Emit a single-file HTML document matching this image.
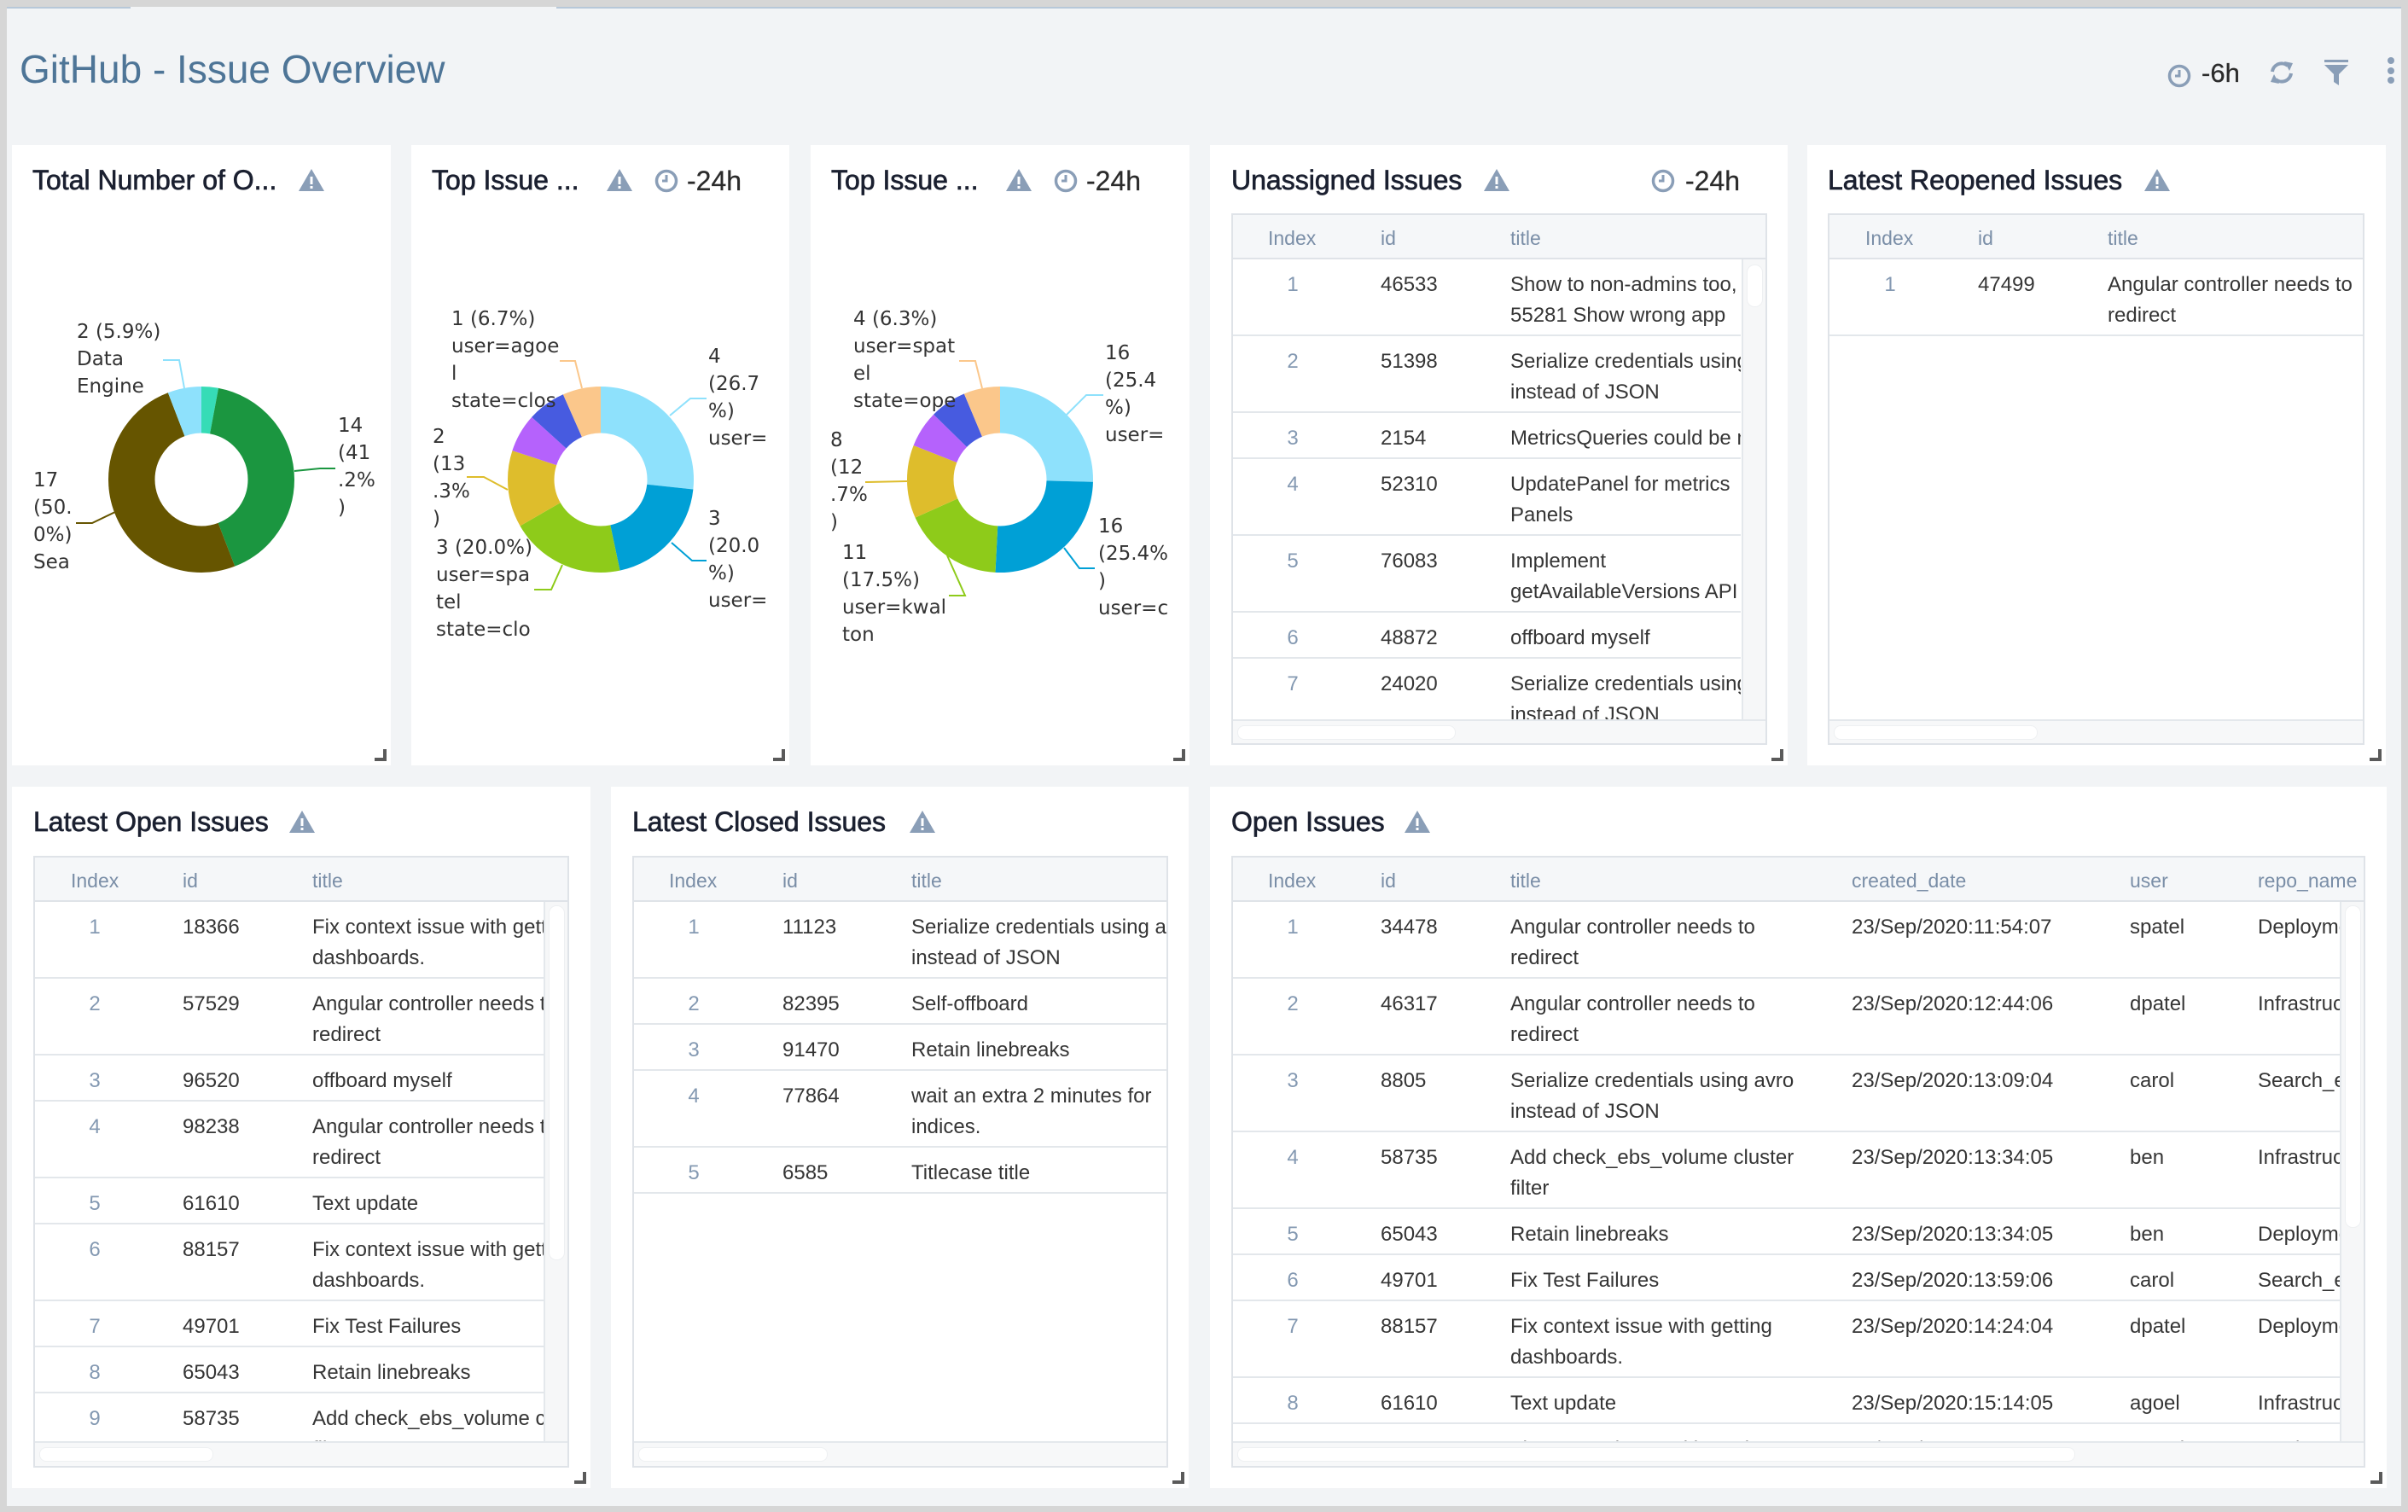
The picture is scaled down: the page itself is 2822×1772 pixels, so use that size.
<!DOCTYPE html>
<html><head><meta charset="utf-8">
<style>
*{margin:0;padding:0}
html,body{width:2822px;height:1772px;overflow:hidden;background:#f2f4f6;font-family:"Liberation Sans",Arial,sans-serif;position:relative}
.a{position:absolute}
.panel{position:absolute;background:#fff}
.pt{position:absolute;font-size:32px;line-height:36px;color:#1b2030;white-space:nowrap;-webkit-text-stroke:0.7px #1b2030}
.tm{position:absolute;font-size:32px;line-height:36px;color:#2b2b2b;white-space:nowrap;-webkit-text-stroke:0.3px #2b2b2b}
.tbl{position:absolute;border:2px solid #dfe3e8;box-sizing:border-box;background:#fff;overflow:hidden}
.hdr{position:absolute;left:0;top:0;right:0;height:52px;background:#f5f7f9;border-bottom:2px solid #dfe3e8;box-sizing:border-box}
.h{position:absolute;top:9px;font-size:23px;line-height:36px;color:#7a8ea7;white-space:nowrap}
.vp{position:absolute;left:0;top:52px;overflow:hidden;background:#fff}
.vs{position:absolute;right:0;top:52px;width:28px;background:#f6f7f8;border-left:2px solid #e4e8ec;box-sizing:border-box}
.vt{position:absolute;left:4px;width:17px;background:#fff;border-radius:9px;border:1px solid #eef0f2}
.hs{position:absolute;left:0;right:0;bottom:0;background:#f7f8f9;border-top:2px solid #e4e8ec;box-sizing:border-box}
.ht{position:absolute;left:5px;top:5px;height:15px;background:#fff;border-radius:8px;border:1px solid #eef0f2}
.r{position:absolute;left:0;right:0;border-bottom:2px solid #e3e7eb;box-sizing:border-box}
.c{position:absolute;top:12px;font-size:24px;line-height:36px;color:#353535;white-space:nowrap}
.i{left:40px;width:60px;text-align:center;color:#8499b2}
.c2{left:173px}.c3{left:325px}.c4{left:725px}.c5{left:1051px}.c6{left:1201px}
</style></head><body>

<!-- frame -->
<div class="a" style="left:0;top:0;width:2822px;height:8px;background:#d6d6d6"></div>
<div class="a" style="left:0;top:8px;width:153px;height:2px;background:#b7c8d9"></div>
<div class="a" style="left:652px;top:8px;width:2162px;height:2px;background:#b7c8d9"></div>
<div class="a" style="left:0;top:0;width:8px;height:1772px;background:#d6d6d6"></div>
<div class="a" style="left:2814px;top:0;width:8px;height:1772px;background:#d6d6d6"></div>
<div class="a" style="left:0;top:1765px;width:2822px;height:7px;background:#d6d6d6"></div>

<!-- header -->
<div class="a" style="left:23px;top:53px;font-size:46px;line-height:56px;color:#4e7597;white-space:nowrap">GitHub - Issue Overview</div>
<svg class="a" style="left:2540px;top:75px" width="28" height="28"><circle cx="14" cy="14" r="11.5" fill="none" stroke="#8a9eb7" stroke-width="3.5"/><path d="M14 7V14H9" fill="none" stroke="#8a9eb7" stroke-width="3"/></svg>
<div class="a" style="left:2580px;top:68px;font-size:31px;line-height:36px;color:#2b2b2b;-webkit-text-stroke:0.3px #2b2b2b">-6h</div>
<svg class="a" style="left:2658px;top:70px" width="32" height="30"><path d="M5 14A11 11 0 0 1 23 7" fill="none" stroke="#8a9eb7" stroke-width="4"/><polygon points="19,2 29,4 25,13" fill="#8a9eb7"/><path d="M27 16A11 11 0 0 1 9 23" fill="none" stroke="#8a9eb7" stroke-width="4"/><polygon points="13,28 3,26 7,17" fill="#8a9eb7"/></svg>
<svg class="a" style="left:2724px;top:70px" width="28" height="30"><rect x="0" y="0" width="28" height="3" fill="#8a9eb7"/><polygon points="0,6 28,6 17,17 17,30 11,26 11,17" fill="#8a9eb7"/></svg>
<svg class="a" style="left:2796px;top:66px" width="12" height="34"><circle cx="6" cy="5" r="4" fill="#8a9eb7"/><circle cx="6" cy="17" r="4" fill="#8a9eb7"/><circle cx="6" cy="28" r="4" fill="#8a9eb7"/></svg>

<!-- panels row 1 -->
<div class="panel" style="left:14px;top:170px;width:444px;height:727px"></div>
<div class="panel" style="left:482px;top:170px;width:443px;height:727px"></div>
<div class="panel" style="left:950px;top:170px;width:444px;height:727px"></div>
<div class="panel" style="left:1418px;top:170px;width:677px;height:727px"></div>
<div class="panel" style="left:2118px;top:170px;width:678px;height:727px"></div>
<!-- panels row 2 -->
<div class="panel" style="left:14px;top:922px;width:678px;height:822px"></div>
<div class="panel" style="left:716px;top:922px;width:677px;height:822px"></div>
<div class="panel" style="left:1418px;top:922px;width:1379px;height:822px"></div>

<!-- titles -->
<div class="pt" style="left:38px;top:193px">Total Number of O...</div>
<div class="pt" style="left:506px;top:193px">Top Issue ...</div>
<div class="pt" style="left:974px;top:193px">Top Issue ...</div>
<div class="pt" style="left:1443px;top:193px">Unassigned Issues</div>
<div class="pt" style="left:2142px;top:193px">Latest Reopened Issues</div>
<div class="pt" style="left:39px;top:945px">Latest Open Issues</div>
<div class="pt" style="left:741px;top:945px">Latest Closed Issues</div>
<div class="pt" style="left:1443px;top:945px">Open Issues</div>

<div class="tm" style="left:805px;top:194px">-24h</div>
<div class="tm" style="left:1273px;top:194px">-24h</div>
<div class="tm" style="left:1975px;top:194px">-24h</div>

<!-- warning icons -->
<svg class="a" style="left:349px;top:197px" width="32" height="28"><polygon points="16,1 31,27 1,27" fill="#8a9eb7"/><rect x="14.5" y="10" width="3" height="9" fill="#fff"/><rect x="14.5" y="21" width="3" height="3" fill="#fff"/></svg>
<svg class="a" style="left:710px;top:197px" width="32" height="28"><polygon points="16,1 31,27 1,27" fill="#8a9eb7"/><rect x="14.5" y="10" width="3" height="9" fill="#fff"/><rect x="14.5" y="21" width="3" height="3" fill="#fff"/></svg>
<svg class="a" style="left:1178px;top:197px" width="32" height="28"><polygon points="16,1 31,27 1,27" fill="#8a9eb7"/><rect x="14.5" y="10" width="3" height="9" fill="#fff"/><rect x="14.5" y="21" width="3" height="3" fill="#fff"/></svg>
<svg class="a" style="left:1738px;top:197px" width="32" height="28"><polygon points="16,1 31,27 1,27" fill="#8a9eb7"/><rect x="14.5" y="10" width="3" height="9" fill="#fff"/><rect x="14.5" y="21" width="3" height="3" fill="#fff"/></svg>
<svg class="a" style="left:2512px;top:197px" width="32" height="28"><polygon points="16,1 31,27 1,27" fill="#8a9eb7"/><rect x="14.5" y="10" width="3" height="9" fill="#fff"/><rect x="14.5" y="21" width="3" height="3" fill="#fff"/></svg>
<svg class="a" style="left:338px;top:949px" width="32" height="28"><polygon points="16,1 31,27 1,27" fill="#8a9eb7"/><rect x="14.5" y="10" width="3" height="9" fill="#fff"/><rect x="14.5" y="21" width="3" height="3" fill="#fff"/></svg>
<svg class="a" style="left:1065px;top:949px" width="32" height="28"><polygon points="16,1 31,27 1,27" fill="#8a9eb7"/><rect x="14.5" y="10" width="3" height="9" fill="#fff"/><rect x="14.5" y="21" width="3" height="3" fill="#fff"/></svg>
<svg class="a" style="left:1645px;top:949px" width="32" height="28"><polygon points="16,1 31,27 1,27" fill="#8a9eb7"/><rect x="14.5" y="10" width="3" height="9" fill="#fff"/><rect x="14.5" y="21" width="3" height="3" fill="#fff"/></svg>

<!-- clock icons -->
<svg class="a" style="left:767px;top:198px" width="28" height="28"><circle cx="14" cy="14" r="11.5" fill="none" stroke="#8a9eb7" stroke-width="3.5"/><path d="M14 7V14H9" fill="none" stroke="#8a9eb7" stroke-width="3"/></svg>
<svg class="a" style="left:1235px;top:198px" width="28" height="28"><circle cx="14" cy="14" r="11.5" fill="none" stroke="#8a9eb7" stroke-width="3.5"/><path d="M14 7V14H9" fill="none" stroke="#8a9eb7" stroke-width="3"/></svg>
<svg class="a" style="left:1935px;top:198px" width="28" height="28"><circle cx="14" cy="14" r="11.5" fill="none" stroke="#8a9eb7" stroke-width="3.5"/><path d="M14 7V14H9" fill="none" stroke="#8a9eb7" stroke-width="3"/></svg>

<!-- resize corners -->
<svg class="a" style="left:439px;top:878px" width="14" height="14"><path d="M10 0h4v14h-14v-4h10z" fill="#5a5a5a"/></svg>
<svg class="a" style="left:906px;top:878px" width="14" height="14"><path d="M10 0h4v14h-14v-4h10z" fill="#5a5a5a"/></svg>
<svg class="a" style="left:1375px;top:878px" width="14" height="14"><path d="M10 0h4v14h-14v-4h10z" fill="#5a5a5a"/></svg>
<svg class="a" style="left:2076px;top:878px" width="14" height="14"><path d="M10 0h4v14h-14v-4h10z" fill="#5a5a5a"/></svg>
<svg class="a" style="left:2777px;top:878px" width="14" height="14"><path d="M10 0h4v14h-14v-4h10z" fill="#5a5a5a"/></svg>
<svg class="a" style="left:673px;top:1725px" width="14" height="14"><path d="M10 0h4v14h-14v-4h10z" fill="#5a5a5a"/></svg>
<svg class="a" style="left:1374px;top:1725px" width="14" height="14"><path d="M10 0h4v14h-14v-4h10z" fill="#5a5a5a"/></svg>
<svg class="a" style="left:2778px;top:1725px" width="14" height="14"><path d="M10 0h4v14h-14v-4h10z" fill="#5a5a5a"/></svg>

<!-- P4 Unassigned Issues table -->
<div class="tbl" style="left:1443px;top:250px;width:628px;height:623px">
  <div class="hdr"><div class="h" style="left:41px">Index</div><div class="h" style="left:173px">id</div><div class="h" style="left:325px">title</div></div>
  <div class="vp" style="width:595px;height:539px">
    <div class="r" style="top:0;height:90px"><div class="c i">1</div><div class="c c2">46533</div><div class="c c3">Show to non-admins too,<br>55281 Show wrong app</div></div>
    <div class="r" style="top:90px;height:90px"><div class="c i">2</div><div class="c c2">51398</div><div class="c c3">Serialize credentials using avro<br>instead of JSON</div></div>
    <div class="r" style="top:180px;height:54px"><div class="c i">3</div><div class="c c2">2154</div><div class="c c3">MetricsQueries could be made</div></div>
    <div class="r" style="top:234px;height:90px"><div class="c i">4</div><div class="c c2">52310</div><div class="c c3">UpdatePanel for metrics<br>Panels</div></div>
    <div class="r" style="top:324px;height:90px"><div class="c i">5</div><div class="c c2">76083</div><div class="c c3">Implement<br>getAvailableVersions API</div></div>
    <div class="r" style="top:414px;height:54px"><div class="c i">6</div><div class="c c2">48872</div><div class="c c3">offboard myself</div></div>
    <div class="r" style="top:468px;height:90px"><div class="c i">7</div><div class="c c2">24020</div><div class="c c3">Serialize credentials using avro<br>instead of JSON</div></div>
  </div>
  <div class="vs" style="height:539px"><div class="vt" style="top:6px;height:48px"></div></div>
  <div class="hs" style="height:28px"><div class="ht" style="width:254px"></div></div>
</div>

<!-- P5 Latest Reopened Issues table -->
<div class="tbl" style="left:2142px;top:250px;width:629px;height:623px">
  <div class="hdr"><div class="h" style="left:42px">Index</div><div class="h" style="left:174px">id</div><div class="h" style="left:326px">title</div></div>
  <div class="vp" style="width:625px;height:539px">
    <div class="r" style="top:0;height:90px"><div class="c i" style="left:41px">1</div><div class="c" style="left:174px">47499</div><div class="c" style="left:326px">Angular controller needs to<br>redirect</div></div>
  </div>
  <div class="hs" style="height:28px"><div class="ht" style="width:237px"></div></div>
</div>

<!-- P6 Latest Open Issues table -->
<div class="tbl" style="left:39px;top:1003px;width:628px;height:717px">
  <div class="hdr"><div class="h" style="left:42px">Index</div><div class="h" style="left:173px">id</div><div class="h" style="left:325px">title</div></div>
  <div class="vp" style="width:596px;height:632px">
    <div class="r" style="top:0;height:90px"><div class="c i">1</div><div class="c c2">18366</div><div class="c c3">Fix context issue with getting<br>dashboards.</div></div>
    <div class="r" style="top:90px;height:90px"><div class="c i">2</div><div class="c c2">57529</div><div class="c c3">Angular controller needs to<br>redirect</div></div>
    <div class="r" style="top:180px;height:54px"><div class="c i">3</div><div class="c c2">96520</div><div class="c c3">offboard myself</div></div>
    <div class="r" style="top:234px;height:90px"><div class="c i">4</div><div class="c c2">98238</div><div class="c c3">Angular controller needs to<br>redirect</div></div>
    <div class="r" style="top:324px;height:54px"><div class="c i">5</div><div class="c c2">61610</div><div class="c c3">Text update</div></div>
    <div class="r" style="top:378px;height:90px"><div class="c i">6</div><div class="c c2">88157</div><div class="c c3">Fix context issue with getting<br>dashboards.</div></div>
    <div class="r" style="top:468px;height:54px"><div class="c i">7</div><div class="c c2">49701</div><div class="c c3">Fix Test Failures</div></div>
    <div class="r" style="top:522px;height:54px"><div class="c i">8</div><div class="c c2">65043</div><div class="c c3">Retain linebreaks</div></div>
    <div class="r" style="top:576px;height:90px"><div class="c i">9</div><div class="c c2">58735</div><div class="c c3">Add check_ebs_volume cluster<br>filter</div></div>
  </div>
  <div class="vs" style="height:632px"><div class="vt" style="top:4px;height:414px"></div></div>
  <div class="hs" style="height:29px"><div class="ht" style="width:202px"></div></div>
</div>

<!-- P7 Latest Closed Issues table -->
<div class="tbl" style="left:741px;top:1003px;width:628px;height:717px">
  <div class="hdr"><div class="h" style="left:41px">Index</div><div class="h" style="left:174px">id</div><div class="h" style="left:325px">title</div></div>
  <div class="vp" style="width:624px;height:632px">
    <div class="r" style="top:0;height:90px"><div class="c i">1</div><div class="c" style="left:174px">11123</div><div class="c c3">Serialize credentials using avro<br>instead of JSON</div></div>
    <div class="r" style="top:90px;height:54px"><div class="c i">2</div><div class="c" style="left:174px">82395</div><div class="c c3">Self-offboard</div></div>
    <div class="r" style="top:144px;height:54px"><div class="c i">3</div><div class="c" style="left:174px">91470</div><div class="c c3">Retain linebreaks</div></div>
    <div class="r" style="top:198px;height:90px"><div class="c i">4</div><div class="c" style="left:174px">77864</div><div class="c c3">wait an extra 2 minutes for<br>indices.</div></div>
    <div class="r" style="top:288px;height:54px"><div class="c i">5</div><div class="c" style="left:174px">6585</div><div class="c c3">Titlecase title</div></div>
  </div>
  <div class="hs" style="height:29px"><div class="ht" style="width:220px"></div></div>
</div>

<!-- P8 Open Issues table -->
<div class="tbl" style="left:1443px;top:1003px;width:1329px;height:717px">
  <div class="hdr"><div class="h" style="left:41px">Index</div><div class="h" style="left:173px">id</div><div class="h" style="left:325px">title</div><div class="h" style="left:725px">created_date</div><div class="h" style="left:1051px">user</div><div class="h" style="left:1201px">repo_name</div></div>
  <div class="vp" style="width:1297px;height:632px">
    <div class="r" style="top:0;height:90px"><div class="c i">1</div><div class="c c2">34478</div><div class="c c3">Angular controller needs to<br>redirect</div><div class="c c4">23/Sep/2020:11:54:07</div><div class="c c5">spatel</div><div class="c c6">Deployment</div></div>
    <div class="r" style="top:90px;height:90px"><div class="c i">2</div><div class="c c2">46317</div><div class="c c3">Angular controller needs to<br>redirect</div><div class="c c4">23/Sep/2020:12:44:06</div><div class="c c5">dpatel</div><div class="c c6">Infrastructure</div></div>
    <div class="r" style="top:180px;height:90px"><div class="c i">3</div><div class="c c2">8805</div><div class="c c3">Serialize credentials using avro<br>instead of JSON</div><div class="c c4">23/Sep/2020:13:09:04</div><div class="c c5">carol</div><div class="c c6">Search_engine</div></div>
    <div class="r" style="top:270px;height:90px"><div class="c i">4</div><div class="c c2">58735</div><div class="c c3">Add check_ebs_volume cluster<br>filter</div><div class="c c4">23/Sep/2020:13:34:05</div><div class="c c5">ben</div><div class="c c6">Infrastructure</div></div>
    <div class="r" style="top:360px;height:54px"><div class="c i">5</div><div class="c c2">65043</div><div class="c c3">Retain linebreaks</div><div class="c c4">23/Sep/2020:13:34:05</div><div class="c c5">ben</div><div class="c c6">Deployment</div></div>
    <div class="r" style="top:414px;height:54px"><div class="c i">6</div><div class="c c2">49701</div><div class="c c3">Fix Test Failures</div><div class="c c4">23/Sep/2020:13:59:06</div><div class="c c5">carol</div><div class="c c6">Search_engine</div></div>
    <div class="r" style="top:468px;height:90px"><div class="c i">7</div><div class="c c2">88157</div><div class="c c3">Fix context issue with getting<br>dashboards.</div><div class="c c4">23/Sep/2020:14:24:04</div><div class="c c5">dpatel</div><div class="c c6">Deployment</div></div>
    <div class="r" style="top:558px;height:54px"><div class="c i">8</div><div class="c c2">61610</div><div class="c c3">Text update</div><div class="c c4">23/Sep/2020:15:14:05</div><div class="c c5">agoel</div><div class="c c6">Infrastructure</div></div>
    <div class="r" style="top:612px;height:90px"><div class="c i">9</div><div class="c c2">18366</div><div class="c c3">Fix context issue with getting<br>dashboards.</div><div class="c c4">23/Sep/2020:15:39:07</div><div class="c c5">spatel</div><div class="c c6">Deployment</div></div>
  </div>
  <div class="vs" style="height:632px"><div class="vt" style="top:4px;height:376px"></div></div>
  <div class="hs" style="height:29px"><div class="ht" style="width:980px"></div></div>
</div>

<!-- charts -->
<svg class="a" style="left:0;top:0" width="2822" height="1772">
  <g fill="none" stroke-width="54.5">
    <g transform="rotate(-90 236 562)">
      <circle cx="236" cy="562" r="81.75" stroke="#36dcb6" stroke-dasharray="15.11 600" stroke-dashoffset="0"/>
      <circle cx="236" cy="562" r="81.75" stroke="#1b9640" stroke-dasharray="211.5 600" stroke-dashoffset="-15.11"/>
      <circle cx="236" cy="562" r="81.75" stroke="#665500" stroke-dasharray="256.83 600" stroke-dashoffset="-226.61"/>
      <circle cx="236" cy="562" r="81.75" stroke="#8ee1fc" stroke-dasharray="30.25 600" stroke-dashoffset="-483.44"/>
    </g>
    <g transform="rotate(-90 704 562)">
      <circle cx="704" cy="562" r="81.75" stroke="#8ee1fc" stroke-dasharray="136.97 600" stroke-dashoffset="0"/>
      <circle cx="704" cy="562" r="81.75" stroke="#00a0d6" stroke-dasharray="102.73 600" stroke-dashoffset="-136.97"/>
      <circle cx="704" cy="562" r="81.75" stroke="#8ecb1a" stroke-dasharray="102.73 600" stroke-dashoffset="-239.7"/>
      <circle cx="704" cy="562" r="81.75" stroke="#debd2c" stroke-dasharray="68.49 600" stroke-dashoffset="-342.43"/>
      <circle cx="704" cy="562" r="81.75" stroke="#b562fc" stroke-dasharray="34.24 600" stroke-dashoffset="-410.92"/>
      <circle cx="704" cy="562" r="81.75" stroke="#475be0" stroke-dasharray="34.24 600" stroke-dashoffset="-445.16"/>
      <circle cx="704" cy="562" r="81.75" stroke="#fbc78b" stroke-dasharray="34.3 600" stroke-dashoffset="-479.4"/>
    </g>
    <g transform="rotate(-90 1172 562)">
      <circle cx="1172" cy="562" r="81.75" stroke="#8ee1fc" stroke-dasharray="130.45 600" stroke-dashoffset="0"/>
      <circle cx="1172" cy="562" r="81.75" stroke="#00a0d6" stroke-dasharray="130.45 600" stroke-dashoffset="-130.45"/>
      <circle cx="1172" cy="562" r="81.75" stroke="#8ecb1a" stroke-dasharray="89.68 600" stroke-dashoffset="-260.9"/>
      <circle cx="1172" cy="562" r="81.75" stroke="#debd2c" stroke-dasharray="65.22 600" stroke-dashoffset="-350.58"/>
      <circle cx="1172" cy="562" r="81.75" stroke="#b562fc" stroke-dasharray="32.61 600" stroke-dashoffset="-415.8"/>
      <circle cx="1172" cy="562" r="81.75" stroke="#475be0" stroke-dasharray="32.61 600" stroke-dashoffset="-448.41"/>
      <circle cx="1172" cy="562" r="81.75" stroke="#fbc78b" stroke-dasharray="32.7 600" stroke-dashoffset="-481.02"/>
    </g>
  </g>
  <g fill="none" stroke-width="2">
    <polyline points="216,455 210,422 191,422" stroke="#8ee1fc"/>
    <polyline points="345,552 375,549 393,549" stroke="#1b9640"/>
    <polyline points="135,600 108,613 89,613" stroke="#665500"/>
    <polyline points="682,455 674,423 656,423" stroke="#fbc78b"/>
    <polyline points="785,487 809,467 828,467" stroke="#8ee1fc"/>
    <polyline points="595,574 567,559 547,559" stroke="#debd2c"/>
    <polyline points="787,636 811,657 828,657" stroke="#00a0d6"/>
    <polyline points="659,662 646,691 626,691" stroke="#8ecb1a"/>
    <polyline points="1151,455 1143,423 1124,423" stroke="#fbc78b"/>
    <polyline points="1250,486 1273,463 1293,463" stroke="#8ee1fc"/>
    <polyline points="1063,564 1014,565" stroke="#debd2c"/>
    <polyline points="1110,651 1131,698 1112,698" stroke="#8ecb1a"/>
    <polyline points="1247,642 1265,666 1283,666" stroke="#00a0d6"/>
  </g>
  <g font-family="'DejaVu Sans', Verdana, sans-serif" font-size="23" fill="#333">
    <text x="90" y="396">2 (5.9%)</text><text x="90" y="428">Data</text><text x="90" y="460">Engine</text>
    <text x="396" y="506">14</text><text x="396" y="538">(41</text><text x="396" y="570">.2%</text><text x="396" y="602">)</text>
    <text x="39" y="570">17</text><text x="39" y="602">(50.</text><text x="39" y="634">0%)</text><text x="39" y="666">Sea</text>

    <text x="529" y="381">1 (6.7%)</text><text x="529" y="413">user=agoe</text><text x="529" y="445">l</text><text x="529" y="477">state=clos</text>
    <text x="830" y="425">4</text><text x="830" y="457">(26.7</text><text x="830" y="489">%)</text><text x="830" y="521">user=</text>
    <text x="507" y="519">2</text><text x="507" y="551">(13</text><text x="507" y="583">.3%</text><text x="507" y="615">)</text>
    <text x="830" y="615">3</text><text x="830" y="647">(20.0</text><text x="830" y="679">%)</text><text x="830" y="711">user=</text>
    <text x="511" y="649">3 (20.0%)</text><text x="511" y="681">user=spa</text><text x="511" y="713">tel</text><text x="511" y="745">state=clo</text>

    <text x="1000" y="381">4 (6.3%)</text><text x="1000" y="413">user=spat</text><text x="1000" y="445">el</text><text x="1000" y="477">state=ope</text>
    <text x="1295" y="421">16</text><text x="1295" y="453">(25.4</text><text x="1295" y="485">%)</text><text x="1295" y="517">user=</text>
    <text x="973" y="523">8</text><text x="973" y="555">(12</text><text x="973" y="587">.7%</text><text x="973" y="619">)</text>
    <text x="987" y="655">11</text><text x="987" y="687">(17.5%)</text><text x="987" y="719">user=kwal</text><text x="987" y="751">ton</text>
    <text x="1287" y="624">16</text><text x="1287" y="656">(25.4%</text><text x="1287" y="688">)</text><text x="1287" y="720">user=c</text>
  </g>
</svg>

</body></html>
